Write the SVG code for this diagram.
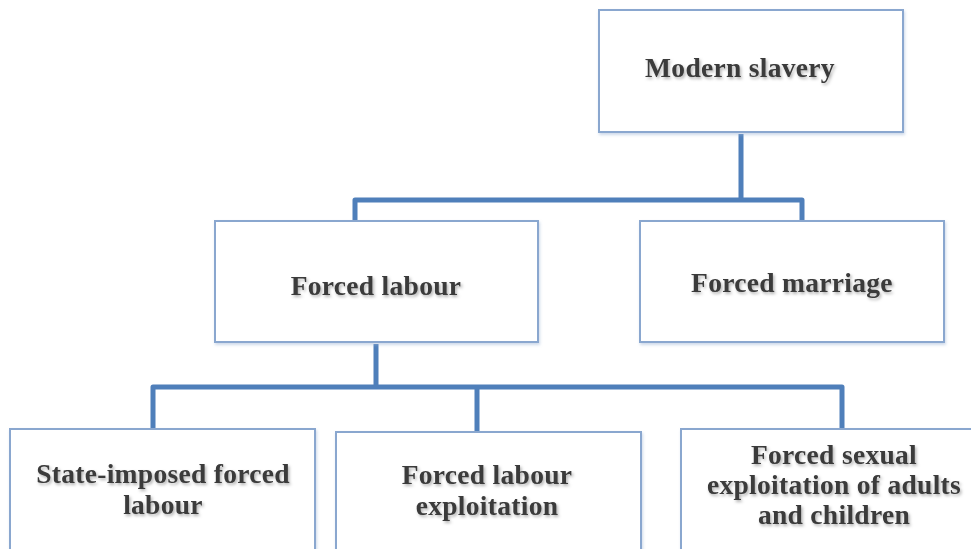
<svg xmlns="http://www.w3.org/2000/svg" width="971" height="549" viewBox="0 0 971 549">
  <style>
    .box { fill: #ffffff; stroke: #8aa7cf; stroke-width: 2; }
    .conn { fill: none; stroke: #4f7fba; stroke-width: 5; stroke-linejoin: round; }
    .lbl { font-family: "Liberation Serif", "Times New Roman", serif; font-weight: bold; font-size: 27.5px; fill: #3a3a3a; text-anchor: middle; letter-spacing: 0.3px; }
  </style>
  <defs>
    <filter id="ts" x="-10%" y="-30%" width="120%" height="160%">
      <feDropShadow dx="1.5" dy="2" stdDeviation="1.5" flood-color="#000000" flood-opacity="0.3"/>
    </filter>
    <filter id="bs" x="-5%" y="-5%" width="110%" height="115%">
      <feDropShadow dx="1" dy="2" stdDeviation="1.5" flood-color="#9fb5d5" flood-opacity="0.5"/>
    </filter>
  </defs>
  <rect width="971" height="549" fill="#ffffff"/>

  <g id="connectors">
    <path class="conn" d="M741 134 V200 M355 221 V200 H802 V221"/>
    <path class="conn" d="M376 344 V387 M153 429 V387 H842 V429 M477 387 V431"/>
  </g>

  <g id="modern-slavery">
    <rect class="box" filter="url(#bs)" x="599" y="10" width="304" height="122"/>
    <text class="lbl" filter="url(#ts)" x="740" y="77">Modern slavery</text>
  </g>

  <g id="forced-labour">
    <rect class="box" filter="url(#bs)" x="215" y="221" width="323" height="121"/>
    <text class="lbl" filter="url(#ts)" x="376" y="295">Forced labour</text>
  </g>

  <g id="forced-marriage">
    <rect class="box" filter="url(#bs)" x="640" y="221" width="304" height="121"/>
    <text class="lbl" filter="url(#ts)" x="792" y="292">Forced marriage</text>
  </g>

  <g id="state-imposed">
    <rect class="box" filter="url(#bs)" x="10" y="429" width="305" height="140"/>
    <text class="lbl" filter="url(#ts)" x="163" y="483">State-imposed forced</text>
    <text class="lbl" filter="url(#ts)" x="163" y="514">labour</text>
  </g>

  <g id="forced-labour-exploitation">
    <rect class="box" filter="url(#bs)" x="336" y="432" width="305" height="140"/>
    <text class="lbl" filter="url(#ts)" x="487" y="484">Forced labour</text>
    <text class="lbl" filter="url(#ts)" x="487" y="515">exploitation</text>
  </g>

  <g id="forced-sexual">
    <rect class="box" filter="url(#bs)" x="681" y="429" width="310" height="140"/>
    <text class="lbl" filter="url(#ts)" x="834" y="464">Forced sexual</text>
    <text class="lbl" filter="url(#ts)" x="834" y="494">exploitation of adults</text>
    <text class="lbl" filter="url(#ts)" x="834" y="524">and children</text>
  </g>
</svg>
